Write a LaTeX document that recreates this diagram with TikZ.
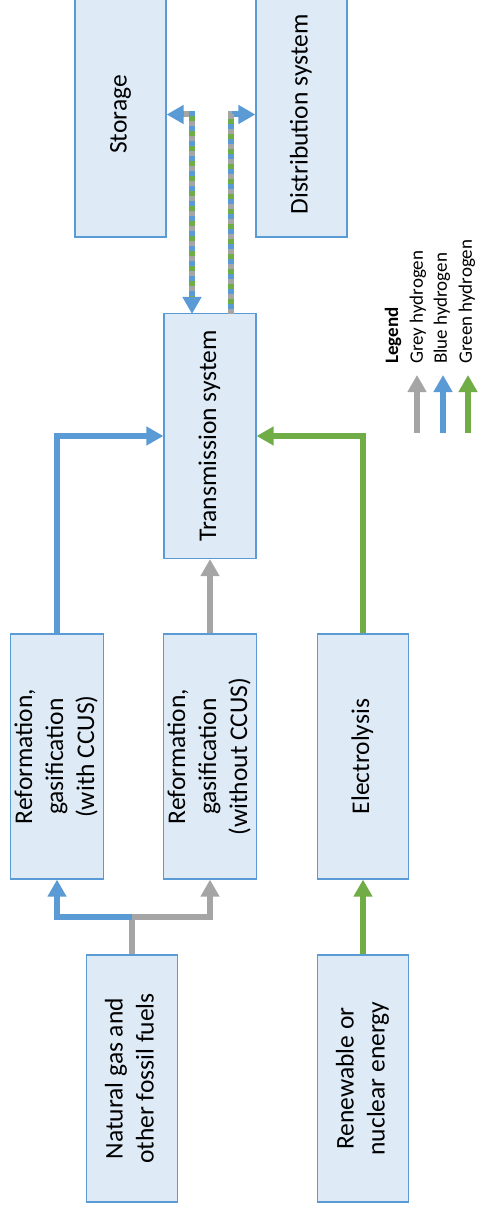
\documentclass[tikz,border=0pt]{standalone}
\usepackage{fontspec}
\setmainfont{Carlito}
\usetikzlibrary{arrows.meta}
\definecolor{boxfill}{HTML}{DEEBF7}
\definecolor{boxline}{HTML}{5B9BD5}
\definecolor{hblue}{HTML}{5B9BD5}
\definecolor{hgrey}{HTML}{A5A5A5}
\definecolor{hgreen}{HTML}{70AD47}
\tikzset{
  box/.style={draw=boxline, fill=boxfill, line width=1.2pt, minimum width=91pt,
    minimum height=245pt, inner sep=0pt, font=\fontsize{25.5}{31}\selectfont},
  flow/.style={line width=6pt, -{Triangle[width=18pt,length=17pt]}},
  biflow/.style={line width=6pt, {Triangle[width=18pt,length=17pt]}-{Triangle[width=18pt,length=17pt]}},
  mixgrey/.style={hgrey, line width=6pt, dash pattern=on 5pt off 10pt},
  mixgreen/.style={hgreen, line width=6pt, dash pattern=on 5pt off 10pt, dash phase=5pt},
  legtxt/.style={rotate=90, anchor=west, inner sep=0pt, font=\fontsize{19}{23}\selectfont},
}
\newcommand{\vtext}[1]{\rotatebox{90}{\begin{tabular}{@{}c@{}}#1\end{tabular}}}
\begin{document}
\begin{tikzpicture}[x=1pt,y=-1pt]
\useasboundingbox (0,0) rectangle (478,1214);
\clip (0,0) rectangle (478,1214);
\fill[white] (0,0) rectangle (478,1214);

\node[box] (sto)  at (120.5,114.5) {\vtext{Storage}};
\node[box] (dist) at (301.5,114.5) {\vtext{Distribution system}};
\node[box, minimum width=92pt] (trans) at (210,436) {\vtext{Transmission system}};
\node[box] (refc) at (57,756.5)  {\vtext{Reformation,\\gasification\\(with CCUS)}};
\node[box] (refn) at (210,756.5) {\vtext{Reformation,\\gasification\\(without CCUS)}};
\node[box] (elec) at (363,756.5) {\vtext{Electrolysis}};
\node[box, minimum height=247pt] (gas) at (132,1078.5) {\vtext{Natural gas and\\other fossil fuels}};
\node[box, minimum height=247pt] (ren) at (363,1078.5) {\vtext{Renewable or\\nuclear energy}};

% production flows
\coordinate (split) at (132,917);
\draw[flow, hblue] (split) -| (refc.south);
\draw[flow, hgrey] (split) -| (refn.south);
\draw[hgrey, line width=6pt] (gas.north) -- ([yshift=-3pt]split);
\draw[flow, hgreen] (ren.north) -- (elec.south);

\draw[flow, hblue] (refc.north) |- (trans.west);
\draw[flow, hgrey] (refn.north) -- (trans.south);
\draw[flow, hgreen] (elec.north) |- (trans.east);

% mixed flows to storage and distribution
\coordinate (tl) at (192,314);
\coordinate (tr) at (231,314);
\draw[biflow, hblue] (sto.east) -| (tl);
\draw[mixgrey, shorten <=17pt, shorten >=17pt] (sto.east) -| (tl);
\draw[mixgreen, shorten <=17pt, shorten >=17pt] (sto.east) -| (tl);
\draw[flow, hblue] (tr) |- (dist.west);
\draw[mixgrey, shorten >=17pt] (tr) |- (dist.west);
\draw[mixgreen, shorten >=17pt] (tr) |- (dist.west);

% legend
\node[legtxt, font=\fontsize{19}{23}\selectfont\bfseries] (lt) at (393,364) {Legend};
\node[legtxt] (lg) at (418,364) {Grey hydrogen};
\node[legtxt] (lb) at (442,364) {Blue hydrogen};
\node[legtxt] (lgr) at (467,364) {Green hydrogen};
\coordinate (ga) at (417,433); \coordinate (gb) at (417,375);
\coordinate (ba) at (443,433); \coordinate (bb) at (443,375);
\coordinate (ea) at (468,433); \coordinate (eb) at (468,375);
\draw[flow, hgrey] (ga) -- (gb);
\draw[flow, hblue] (ba) -- (bb);
\draw[flow, hgreen] (ea) -- (eb);
\end{tikzpicture}
\end{document}
